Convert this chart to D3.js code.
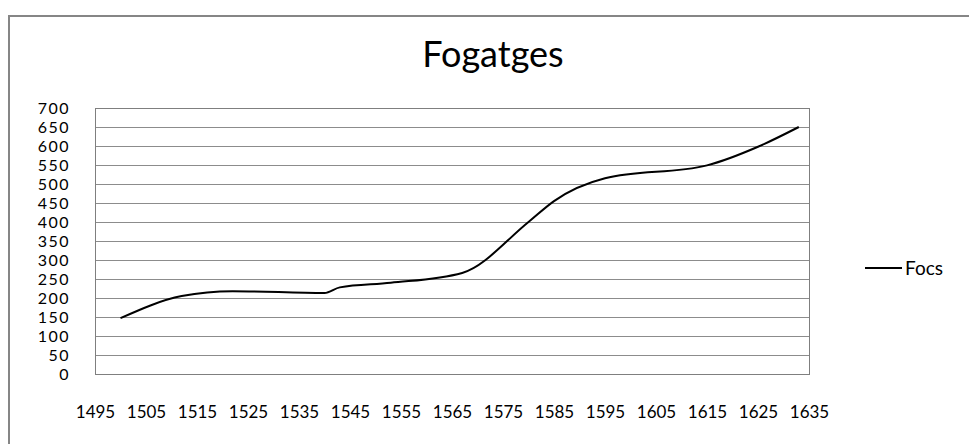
<!DOCTYPE html>
<html>
<head>
<meta charset="utf-8">
<script src="https://cdn.jsdelivr.net/npm/d3@7/dist/d3.min.js"></script>
<style>
  body { margin: 0; background: #fff; }
  svg text { font-family: Lato, "Open Sans", sans-serif; fill: #000; }
</style>
</head>
<body>
<div id="chart"></div>
<script>
// data
var years = [1500, 1512, 1522, 1540, 1543, 1553, 1567, 1580, 1585, 1595, 1615, 1625, 1633];
var focs = [147, 205, 218, 213, 228, 240, 266, 400, 455, 515, 549, 598, 650];
var xTicks = [1495, 1505, 1515, 1525, 1535, 1545, 1555, 1565, 1575, 1585, 1595, 1605, 1615, 1625, 1635];
var yTicks = [0, 50, 100, 150, 200, 250, 300, 350, 400, 450, 500, 550, 600, 650, 700];
var seriesName = "Focs";
var titleText = "Fogatges";

var W = 969, H = 444;
var margin = { top: 108, right: 160, bottom: 70, left: 95 },
    width = 809 - margin.left,
    height = 374 - margin.top;

var svg = d3.select("#chart")
    .append("svg")
    .attr("width", W)
    .attr("height", H);

// outer chart border (runs off the picture on right / bottom)
svg.append("rect")
    .attr("x", 9).attr("y", 16)
    .attr("width", 1000).attr("height", 600)
    .attr("fill", "none")
    .attr("stroke", "#868686")
    .attr("stroke-width", 2);

svg.append("text")
    .attr("x", 493).attr("y", 67)
    .attr("text-anchor", "middle")
    .style("font-size", "36px")
    .text(titleText);

var g = svg.append("g")
    .attr("transform", "translate(" + margin.left + "," + margin.top + ")");

var x = d3.scaleLinear()
    .domain([1495, 1635])
    .range([0, width]);

var y = d3.scaleLinear()
    .domain([0, 700])
    .range([height, 0]);

// gridlines
g.append("g")
    .selectAll("line")
    .data(yTicks)
    .join("line")
    .attr("x1", 0).attr("x2", width)
    .attr("y1", d => y(d) + 0.5).attr("y2", d => y(d) + 0.5)
    .attr("stroke", "#8c8c8c")
    .attr("stroke-width", 1);

// plot area frame
g.append("rect")
    .attr("x", 0.5).attr("y", 0.5)
    .attr("width", width).attr("height", height)
    .attr("fill", "none")
    .attr("stroke", "#7f7f7f")
    .attr("stroke-width", 1);

// y axis labels
var yAxis = d3.axisLeft(y)
    .tickValues(yTicks)
    .tickSize(0)
    .tickPadding(25);

g.append("g")
    .call(yAxis)
    .call(s => s.select(".domain").remove())
    .selectAll("text")
    .style("font-size", "16px")
    .style("letter-spacing", "1.5px")
    .style("font-family", "Lato, sans-serif");

// x axis labels sit well below the plot
var xAxis = d3.axisBottom(x)
    .tickValues(xTicks)
    .tickFormat(d3.format("d"))
    .tickSize(0)
    .tickPadding(0);

g.append("g")
    .attr("transform", "translate(0," + (height + 32) + ")")
    .call(xAxis)
    .call(s => s.select(".domain").remove())
    .selectAll("text")
    .style("font-size", "17px")
    .style("font-family", "Lato, sans-serif");

// the smoothed series
g.append("path")
    .datum(years.map((d, i) => [d, focs[i]]))
    .attr("fill", "none")
    .attr("stroke", "#000")
    .attr("stroke-width", 2)
    .attr("stroke-linejoin", "round")
    .attr("d", d3.line()
        .x(d => x(d[0]))
        .y(d => y(d[1]))
        .curve(d3.curveMonotoneX));

// legend
var lg = svg.append("g").attr("transform", "translate(865,268)");
lg.append("line")
    .attr("x1", 0).attr("x2", 37)
    .attr("y1", 0).attr("y2", 0)
    .attr("stroke", "#000")
    .attr("stroke-width", 2);
lg.append("text")
    .attr("x", 40).attr("y", 0)
    .attr("dy", "0.35em")
    .style("font-size", "19px")
    .text(seriesName);
</script>
</body>
</html>
